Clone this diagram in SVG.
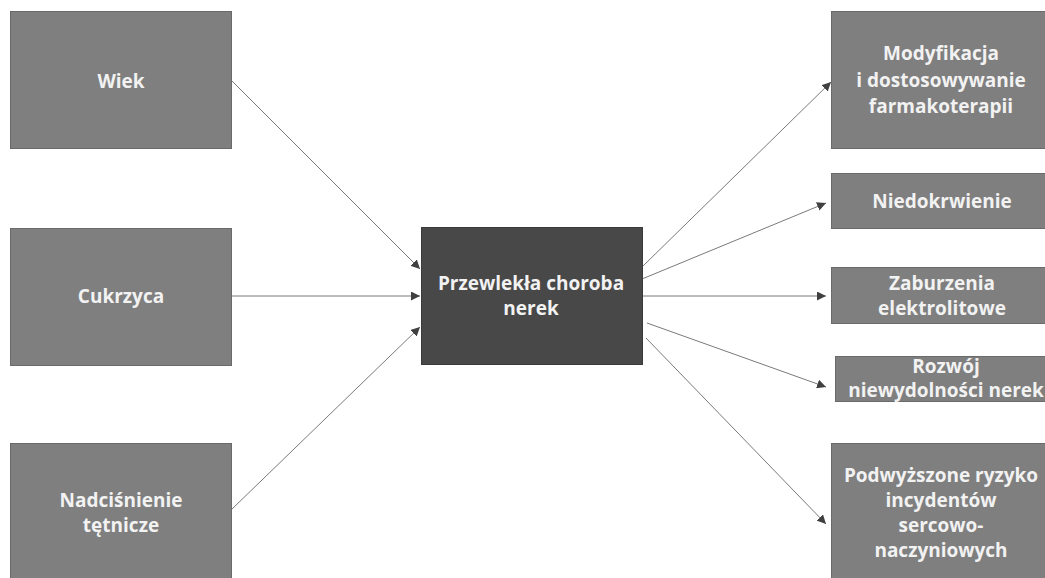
<svg xmlns="http://www.w3.org/2000/svg" width="1045" height="578" viewBox="0 0 1045 578">
<defs>
<marker id="arr" viewBox="0 0 10 10" refX="10" refY="5" markerWidth="9" markerHeight="9" markerUnits="userSpaceOnUse" orient="auto">
<path d="M0,0 L10,5 L0,10 z" fill="#404040"/>
</marker>
<style>
.box{fill:#7f7f7f;stroke:#6a6a6a;stroke-width:1}
.main{fill:#484848;stroke:#3a3a3a;stroke-width:1}
.t{font-family:"Open Sans","Liberation Sans",sans-serif;font-weight:700;font-size:19px;fill:#f2f2f2;text-anchor:middle}
.c{stroke:#7a7a7a;stroke-width:1;fill:none;marker-end:url(#arr)}
</style>
</defs>
<rect width="1045" height="578" fill="#ffffff"/>
<g id="connectors">
<line class="c" x1="231" y1="80" x2="420" y2="269"/>
<line class="c" x1="231" y1="296" x2="420" y2="296"/>
<line class="c" x1="231" y1="510" x2="420" y2="327"/>
<line class="c" x1="642" y1="267" x2="831" y2="82"/>
<line class="c" x1="642" y1="279" x2="826" y2="203"/>
<line class="c" x1="642" y1="296" x2="826" y2="296"/>
<line class="c" x1="647" y1="323" x2="826" y2="387"/>
<line class="c" x1="646" y1="338" x2="826" y2="524"/>
</g>
<g id="wiek">
<rect class="box" x="10.5" y="11.5" width="221" height="137"/>
<text class="t" x="121" y="88">Wiek</text>
</g>
<g id="cukrzyca">
<rect class="box" x="10.5" y="228.5" width="221" height="137"/>
<text class="t" x="121" y="303">Cukrzyca</text>
</g>
<g id="nadcisnienie">
<rect class="box" x="10.5" y="443.5" width="221" height="140"/>
<text class="t" x="121" y="507">Nadciśnienie</text>
<text class="t" x="121" y="532">tętnicze</text>
</g>
<g id="ckd">
<rect class="main" x="421.5" y="227.5" width="221" height="137"/>
<text class="t" x="531" y="290">Przewlekła choroba</text>
<text class="t" x="531" y="315">nerek</text>
</g>
<g id="modyfikacja">
<rect class="box" x="831.5" y="11.5" width="220" height="137"/>
<text class="t" x="941" y="60">Modyfikacja</text>
<text class="t" x="941" y="87">i dostosowywanie</text>
<text class="t" x="941" y="113">farmakoterapii</text>
</g>
<g id="niedokrwienie">
<rect class="box" x="831.5" y="173.5" width="220" height="55"/>
<text class="t" x="942" y="208">Niedokrwienie</text>
</g>
<g id="zaburzenia">
<rect class="box" x="831.5" y="267.5" width="220" height="56"/>
<text class="t" x="942" y="290">Zaburzenia</text>
<text class="t" x="942" y="315">elektrolitowe</text>
</g>
<g id="rozwoj">
<rect class="box" x="835.5" y="356.5" width="216" height="45"/>
<text class="t" x="946" y="373">Rozwój</text>
<text class="t" x="946" y="397">niewydolności nerek</text>
</g>
<g id="podwyzszone">
<rect class="box" x="831.5" y="443.5" width="220" height="140"/>
<text class="t" x="941" y="482">Podwyższone ryzyko</text>
<text class="t" x="941" y="507">incydentów</text>
<text class="t" x="941" y="532">sercowo-</text>
<text class="t" x="941" y="557">naczyniowych</text>
</g>
</svg>
